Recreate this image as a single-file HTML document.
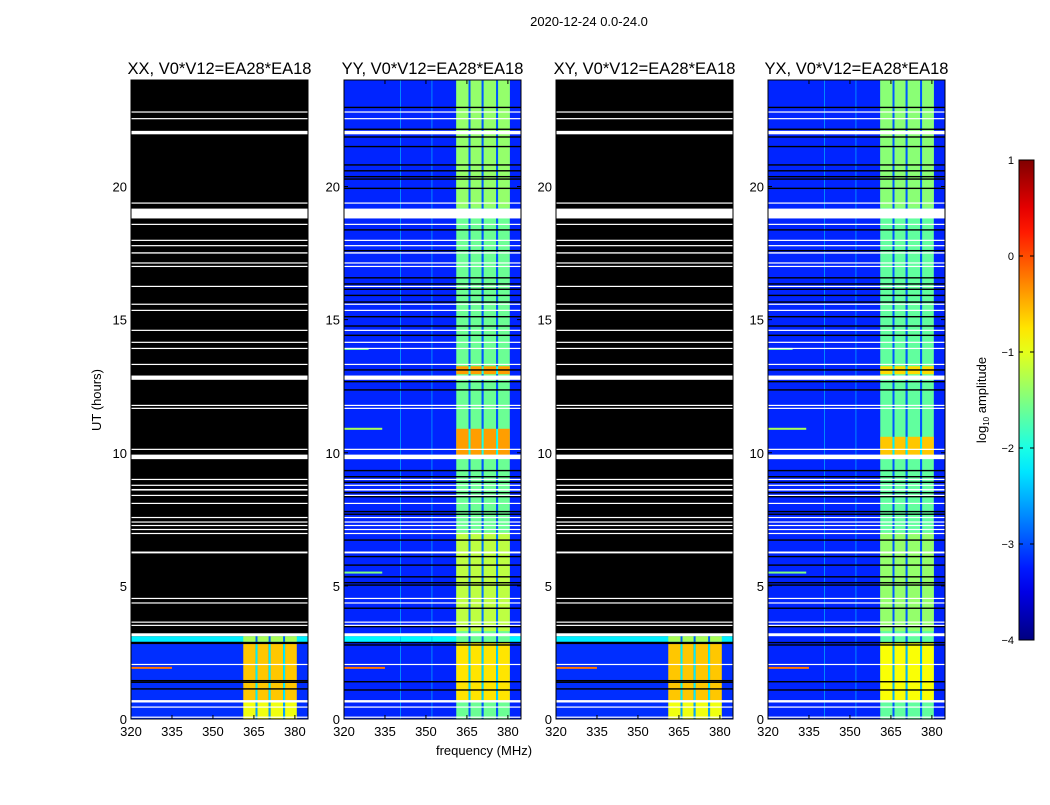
<!DOCTYPE html>
<html><head><meta charset="utf-8"><style>
body{margin:0;background:#fff;}
svg text{font-family:"Liberation Sans",sans-serif;fill:#000;}
</style></head><body>
<svg id="fig" width="1050" height="800" xmlns="http://www.w3.org/2000/svg">
<rect width="1050" height="800" fill="#fff"/>
<text x="589" y="26" font-size="13" text-anchor="middle">2020-12-24 0.0-24.0</text>
<text x="101" y="400" font-size="13" text-anchor="middle" transform="rotate(-90 101 400)">UT (hours)</text>
<text x="484" y="755" font-size="13" text-anchor="middle">frequency (MHz)</text>
<g id="panels"></g>
<g id="cbar"></g>
<text x="986" y="400" font-size="13" text-anchor="middle" transform="rotate(-90 986 400)">log<tspan font-size="8" dy="3">10</tspan><tspan dy="-3"> amplitude</tspan></text>
</svg>
<script>
// ---- data ----
const panelTitles = ["XX, V0*V12=EA28*EA18","YY, V0*V12=EA28*EA18","XY, V0*V12=EA28*EA18","YX, V0*V12=EA28*EA18"];
const xTicks = [320,335,350,365,380];
const yTicks = [0,5,10,15,20];
const cbarTicks = [1,0,-1,-2,-3,-4];
// white (no-data) rows, hours [start,end]
const whiteRows = [[22.78,22.82],[22.53,22.57],[21.96,22.09],[19.36,19.40],[18.80,19.17],[18.56,18.60],[17.96,18.00],[17.76,17.80],[17.48,17.53],[17.11,17.15],[16.98,17.02],[16.23,16.27],[15.56,15.60],[15.33,15.37],[14.58,14.62],[14.13,14.17],[13.90,13.94],[13.30,13.34],[12.74,12.90],
[11.76,11.80],[11.65,11.69],[10.11,10.15],[9.76,9.93],[8.98,9.02],[8.76,8.80],[8.58,8.64],[8.38,8.42],[8.08,8.12],[7.55,7.59],[7.38,7.42],[7.25,7.29],[7.10,7.14],[6.95,6.99],[6.22,6.29],[4.51,4.55],[4.34,4.38],[3.62,3.66],[3.50,3.54],[3.11,3.22],[2.03,2.07],[0.62,0.71],[0.43,0.47],[0.05,0.09]];
// flagged black rows for YY / YX
const blackRowsY = [22.97,22.15,21.86,21.50,20.81,20.59,20.37,20.28,19.93,18.37,17.59,16.57,16.34,16.14,15.91,15.66,15.11,14.76,14.41,13.11,12.67,12.36,9.33,9.10,8.89,8.50,8.35,7.79,7.69,6.72,6.10,5.78,5.34,5.12,5.03,4.16,3.47,2.87,2.78,1.40,1.09];
const blackRowsX = [2.87,2.84,1.44,1.38,1.13];
// background level regions [h0,h1,log10 amp]
const bgXX = [[0,2.9,-3.15],[2.9,3.11,-2.2]];
const bgYY = [[0,24,-3.2],[2.9,3.11,-2.15]];
const bgYX = [[0,24,-3.2]];
// band level regions [h0,h1,log10 amp]
const bandXX = [[0,0.7,-0.95],[0.7,2.85,-0.6],[2.9,3.11,-1.3]];
const bandYY = [[0,24,-1.6],[0.7,2.85,-0.75],[3.3,7.0,-1.2],[9.9,10.9,-0.4],[12.95,13.25,-0.4],[19.2,24,-1.4]];
const bandYX = [[0,24,-1.65],[0.7,2.85,-0.9],[3.3,7.0,-1.4],[9.9,10.6,-0.6],[12.95,13.25,-0.7],[19.2,24,-1.45]];
// bright sub-band columns (MHz)
const bandCols = [[361.1,365.6],[366.3,370.4],[371.1,375.7],[376.4,380.7]];
// RFI spectral lines [h, f0, f1, level]
const rfiX = [[1.92,320,335,-0.2]];
const rfiY = [[1.92,320,335,-0.2],[10.9,320,334,-1.3],[5.5,320,334,-1.5],[13.9,320,329,-1.6]];
// ---- drawing ----
const panels=[{x:131,bg:bgXX,band:bandXX,black:blackRowsX,rfi:rfiX,top:3.22},
{x:344,bg:bgYY,band:bandYY,black:blackRowsY,rfi:rfiY,top:24},
{x:556,bg:bgXX,band:bandXX,black:blackRowsX,rfi:rfiX,top:3.22},
{x:768,bg:bgYX,band:bandYX,black:blackRowsY,rfi:rfiY,top:24}];
const PW=177,PT=80,PH=639,F0=320,F1=384.8;
const NS="http://www.w3.org/2000/svg";
function jet(v){const t=Math.max(0,Math.min(1,(v+4)/5));const c=x=>Math.round(255*Math.max(0,Math.min(1,1.5-Math.abs(4*t-x))));return `rgb(${c(3)},${c(2)},${c(1)})`;}
function el(tag,attrs,parent){const e=document.createElementNS(NS,tag);for(const k in attrs)e.setAttribute(k,attrs[k]);parent.appendChild(e);return e;}
const root=document.getElementById('panels');
panels.forEach((p,i)=>{
  const xs=f=>p.x+(f-F0)/(F1-F0)*PW;
  const ys=h=>PT+PH-h/24*PH;
  const g=el('g',{},root);
  
  
  const t=el('text',{x:p.x+PW/2,y:74,'font-size':16.5,'text-anchor':'middle'},g);
  
  
  t.textContent=panelTitles[i];
  const bk=el('rect',{x:p.x,y:PT,width:PW,height:PH,fill:'#000'},g);
  
  
  p.bg.forEach(r=>{const h1=Math.min(r[1],p.top);
    const e=el('rect',{x:p.x,y:ys(h1),width:PW,height:ys(r[0])-ys(h1),fill:jet(r[2])},g);
    
    });
  p.band.forEach(r=>{const h1=Math.min(r[1],p.top);
    bandCols.forEach(c=>{
      const e=el('rect',{x:xs(c[0]),y:ys(h1),width:xs(c[1])-xs(c[0]),height:ys(r[0])-ys(h1),fill:jet(r[2])},g);
      
      });
    for(let k=0;k<bandCols.length-1;k++){
      const e=el('rect',{x:xs(bandCols[k][1]),y:ys(h1),width:xs(bandCols[k+1][0])-xs(bandCols[k][1]),height:ys(r[0])-ys(h1),fill:jet(Math.max(-2.95,r[2]-1.6))},g);
      
      }
  });
  if(p.top>20){[340.5,352].forEach(f=>{const e=el('rect',{x:xs(f),y:PT,width:1,height:PH,fill:jet(-2.5),opacity:0.7},g);
    
    });}
  p.rfi.forEach(r=>{const e=el('rect',{x:xs(r[1]),y:ys(r[0])-1,width:xs(r[2])-xs(r[1]),height:2,fill:jet(r[3])},g);
    
    });
  p.black.forEach(h=>{const e=el('rect',{x:p.x,y:ys(h)-0.7,width:PW,height:1.4,fill:'#000'},g);
    
    });
  whiteRows.forEach(r=>{const e=el('rect',{x:p.x,y:ys(r[1]),width:PW,height:Math.max(1.2,ys(r[0])-ys(r[1])),fill:'#fff'},g);
    
    });
  const fr=el('rect',{x:p.x,y:PT,width:PW,height:PH,fill:'none',stroke:'#000','stroke-width':1},g);
  
  
  xTicks.forEach(v=>{const x=xs(v);
    el('line',{x1:x,x2:x,y1:PT+PH,y2:PT+PH-4,stroke:'#000'},g);
    el('line',{x1:x,x2:x,y1:PT,y2:PT+4,stroke:'#000'},g);
    const tx=el('text',{x:x,y:736,'font-size':13,'text-anchor':'middle'},g);
    
    
    tx.textContent=v;});
  yTicks.forEach(v=>{const y=ys(v);
    el('line',{x1:p.x,x2:p.x+4,y1:y,y2:y,stroke:'#000'},g);
    el('line',{x1:p.x+PW,x2:p.x+PW-4,y1:y,y2:y,stroke:'#000'},g);
    const ty=el('text',{x:p.x-4,y:y+5,'font-size':13,'text-anchor':'end'},g);
    
    
    ty.textContent=v;});
});
// colorbar
const cb=document.getElementById('cbar');
const CX=1019,CW=15,CT=160,CH=480;
const cy=v=>CT+(1-v)/5*CH;
const grad=el('linearGradient',{id:'jetg',x1:0,y1:1,x2:0,y2:0},el('defs',{},cb));
for(let k=0;k<=20;k++){el('stop',{offset:k/20,'stop-color':jet(-4+k*5/20)},grad);}
el('rect',{x:CX,y:CT,width:CW,height:CH,fill:'url(#jetg)',stroke:'#000','stroke-width':1},cb);
cbarTicks.forEach(v=>{const y=cy(v);
  el('line',{x1:CX,x2:CX+4,y1:y,y2:y,stroke:'#000'},cb);
  el('line',{x1:CX+CW,x2:CX+CW-4,y1:y,y2:y,stroke:'#000'},cb);
  const t=el('text',{x:CX-5,y:y+4,'font-size':11,'text-anchor':'end'},cb);
  
  
  t.textContent=v<0?'\u2212'+(-v):v;});
</script>
</body></html>
